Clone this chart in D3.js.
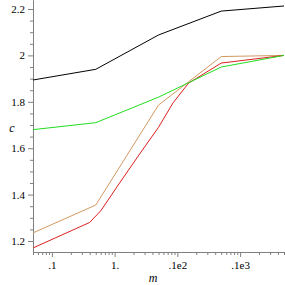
<!DOCTYPE html>
<html>
<head>
<meta charset="utf-8">
<script src="https://cdn.jsdelivr.net/npm/d3@7"></script>
<style>
  body { margin: 0; background: #fff; }
  .axis path, .axis line { stroke: #808080; }
  text { font-family: "Liberation Serif", serif; }
</style>
</head>
<body>
<script>
// m values (log scale) and the four c series
const mValues = [0.05, 0.5, 5, 50, 500];
const blackC = [1.894, 1.94, 2.088, 2.191, 2.213];
const greenC = [1.68, 1.71, 1.82, 1.95, 2.0];
const tanC = [1.235, 1.355, 1.786, 1.995, 2.0];

// red curve was drawn with more points
const redM = [0.05, 0.4, 0.6, 1.2, 2.5, 5, 8.5, 15, 50, 500];
const redC = [1.17, 1.28, 1.33, 1.45, 1.575, 1.69, 1.795, 1.88, 1.967, 2.0];

const xTickValues = [0.1, 1, 10, 100];
const xTickLabels = [".1", "1.", ".1e2", ".1e3"];
const yTickValues = [1.2, 1.4, 1.6, 1.8, 2.0, 2.2];
const yTickLabels = ["1.2", "1.4", "1.6", "1.8", "2", "2.2"];

const width = 285, height = 285;
const margin = {top: 0, right: 1, bottom: 33, left: 33};

const svg = d3.select("body").append("svg")
    .attr("width", width)
    .attr("height", height);

const x = d3.scaleLog()
    .domain([0.05, 500])
    .range([margin.left, width - margin.right]);

const y = d3.scaleLinear()
    .domain([1.1526, 2.2388])
    .range([height - margin.bottom, margin.top]);

// minor ticks: 2..9 in each decade, every 0.05 on c
const xMinor = [];
[0.01, 0.1, 1, 10, 100].forEach(d => {
    for (let k = 2; k <= 9; k++) {
        const v = d * k;
        if (v >= 0.05 && v <= 500) xMinor.push(v);
    }
});
const yMinor = d3.range(1.2, 2.24, 0.05).filter(v => !yTickValues.some(t => Math.abs(t - v) < 1e-6));

// d3 puts font-family="sans-serif" on the axis group, so drop it
const styleText = g => {
    g.attr("font-family", null);
    g.selectAll("text").attr("font-size", 11).attr("fill", "#000");
};

svg.append("g")
    .attr("class", "axis")
    .attr("transform", "translate(0," + (height - margin.bottom) + ")")
    .call(d3.axisBottom(x).tickValues(xMinor).tickSize(3).tickFormat("").tickSizeOuter(0));

svg.append("g")
    .attr("class", "axis")
    .attr("transform", "translate(0," + (height - margin.bottom) + ")")
    .call(d3.axisBottom(x).tickValues(xTickValues).tickSize(5).tickSizeOuter(0)
        .tickFormat((d, i) => xTickLabels[i]))
    .call(styleText)
    .call(g => g.selectAll("text").attr("dy", "0.85em"));

svg.append("g")
    .attr("class", "axis")
    .attr("transform", "translate(" + margin.left + ",0)")
    .call(d3.axisLeft(y).tickValues(yMinor).tickSize(3).tickFormat("").tickSizeOuter(0));

svg.append("g")
    .attr("class", "axis")
    .attr("transform", "translate(" + margin.left + ",0)")
    .call(d3.axisLeft(y).tickValues(yTickValues).tickSize(5).tickSizeOuter(0)
        .tickFormat((d, i) => yTickLabels[i]))
    .call(styleText);

// axis titles
svg.append("text")
    .attr("x", 153)
    .attr("y", 282)
    .attr("text-anchor", "middle")
    .attr("font-style", "italic")
    .attr("font-size", 12)
    .text("m");

svg.append("text")
    .attr("x", 12)
    .attr("y", 132)
    .attr("text-anchor", "middle")
    .attr("font-style", "italic")
    .attr("font-size", 12)
    .text("c");

const line = d3.line()
    .x(d => x(d[0]))
    .y(d => y(d[1]));

const addSeries = (ms, cs, colour) =>
    svg.append("path")
        .attr("d", line(ms.map((m, i) => [m, cs[i]])))
        .attr("fill", "none")
        .attr("stroke", colour)
        .attr("stroke-width", 1);

addSeries(mValues, blackC, "#000000");
addSeries(mValues, tanC, "#d09a60");
addSeries(redM, redC, "#dd2020");
addSeries(mValues, greenC, "#22dd22");
</script>
</body>
</html>
